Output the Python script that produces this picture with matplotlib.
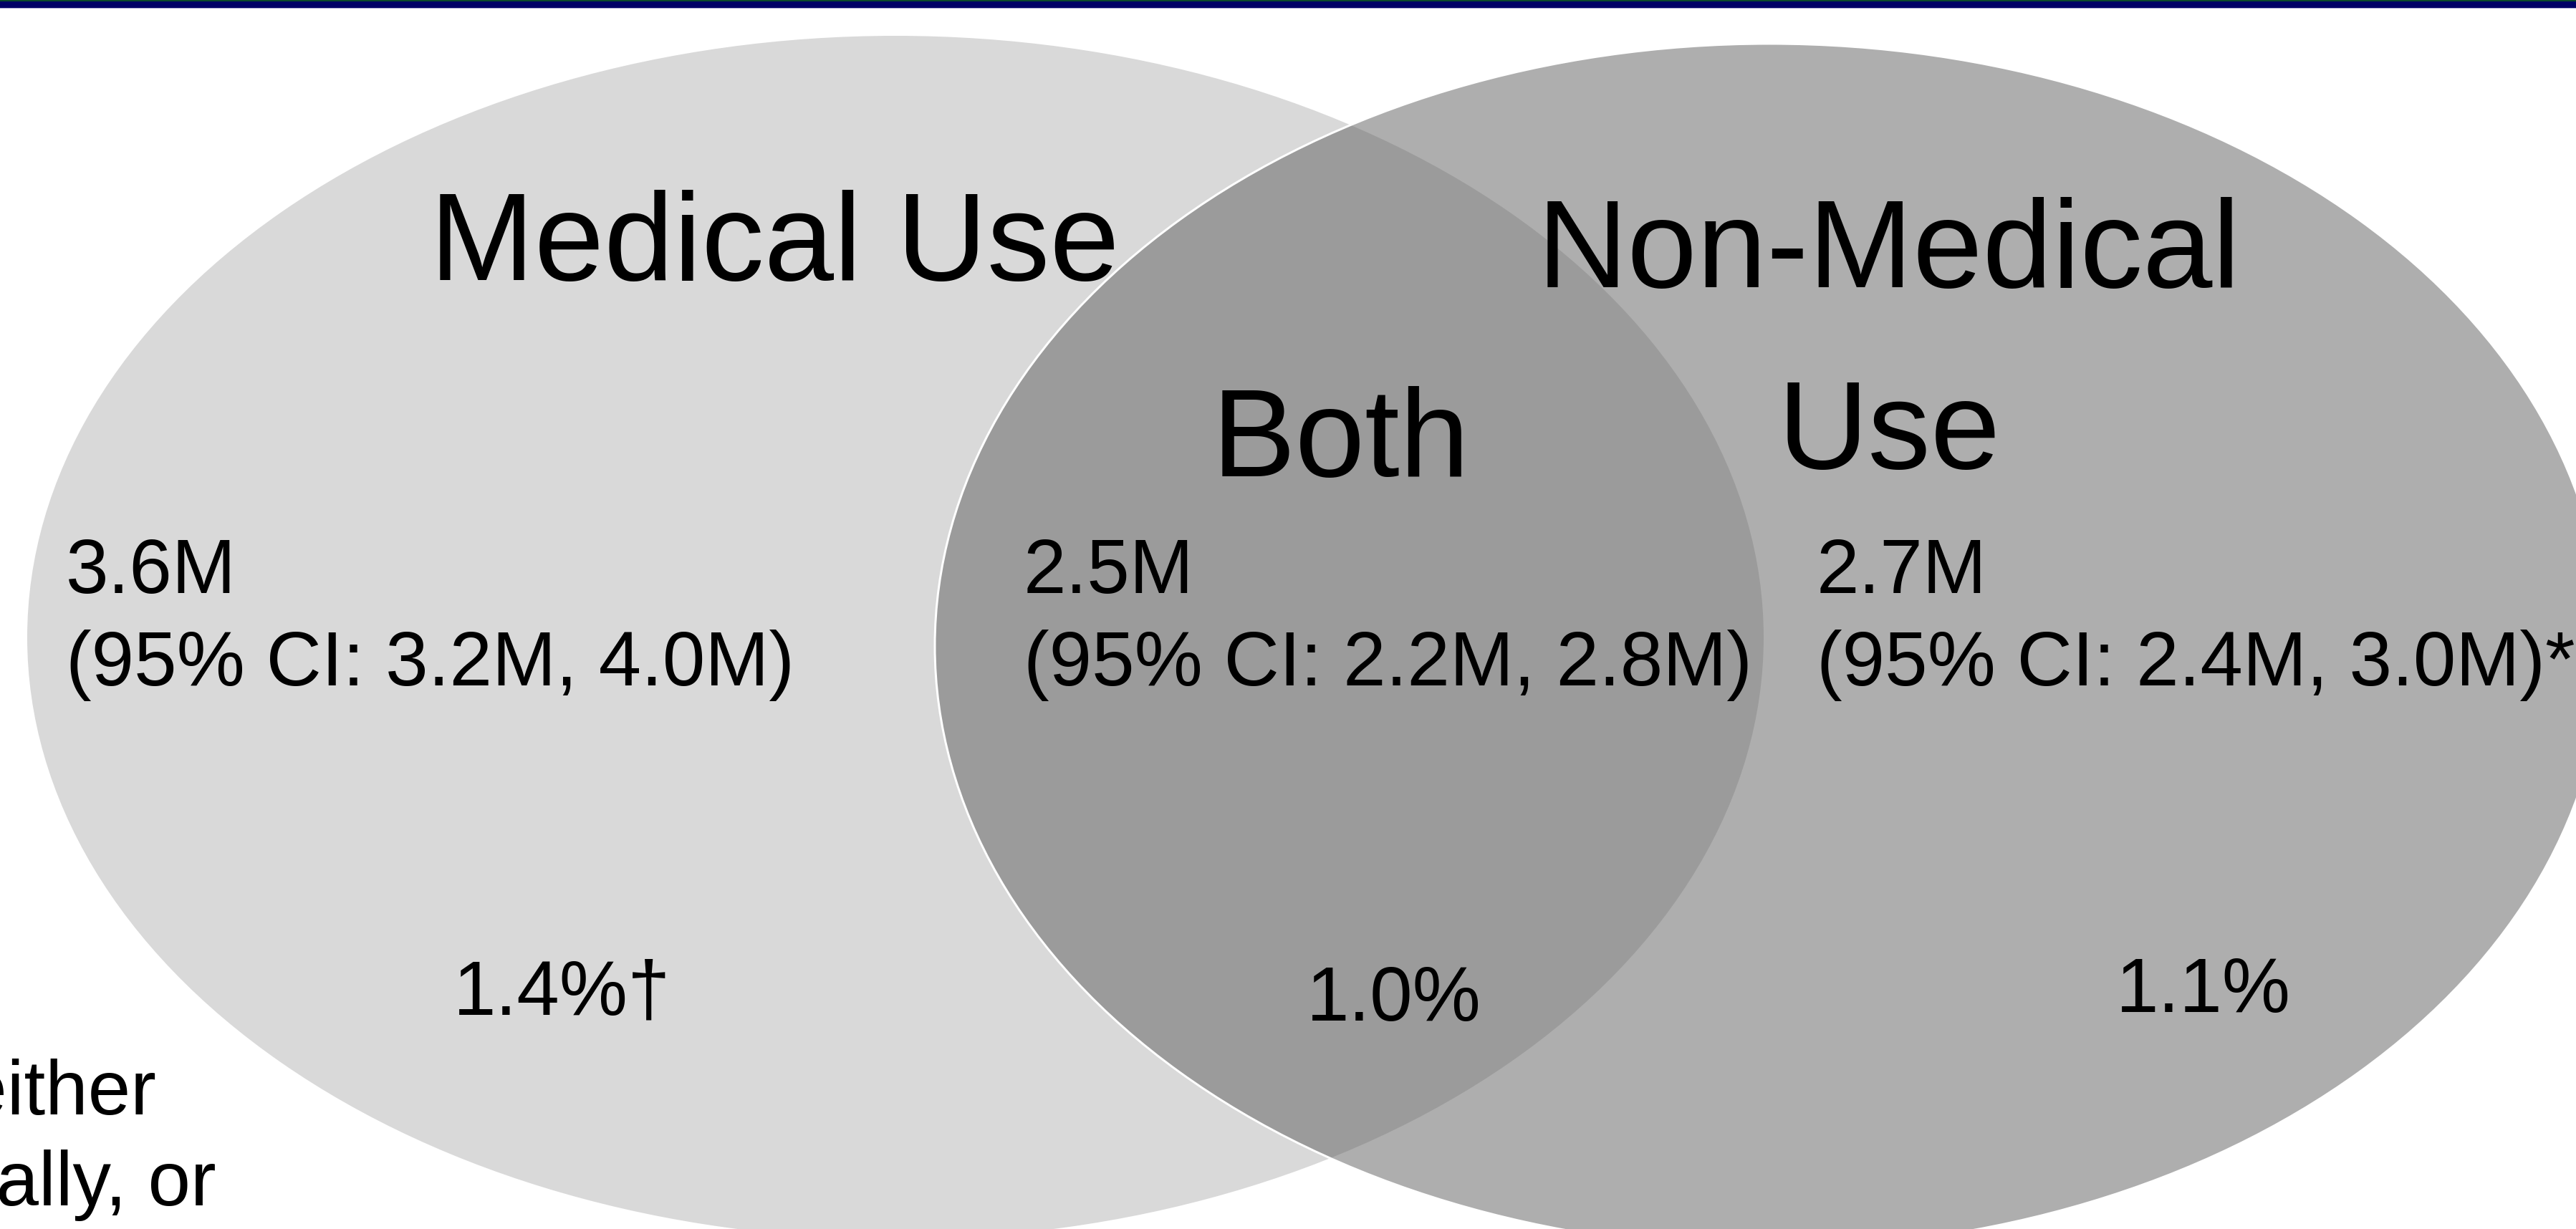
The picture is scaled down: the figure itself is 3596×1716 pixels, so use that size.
import matplotlib
matplotlib.use("Agg")
import matplotlib.pyplot as plt
from matplotlib.patches import Ellipse, Rectangle

# ---- data ----
set_titles = ["Medical Use", "Non-Medical", "Use"]
overlap_title = "Both"
counts = ["3.6M", "2.5M", "2.7M"]
ci_low = ["3.2M", "2.2M", "2.4M"]
ci_high = ["4.0M", "2.8M", "3.0M"]
ci_marks = ["", "", "*"]
percents = ["1.4%", "1.0%", "1.1%"]
pct_marks = ["\u2020", "", ""]
side_lines = ["Neither", "Medically, or"]

# ---- layout (pixel coordinates) ----
W, H = 3596, 1716
DPI = 100
FONT = ["Liberation Sans", "DejaVu Sans"]

def pt(px):
    return px * 72.0 / DPI

fig = plt.figure(figsize=(W / DPI, H / DPI), dpi=DPI)
ax = fig.add_axes([0, 0, 1, 1])
ax.set_xlim(0, W)
ax.set_ylim(H, 0)
ax.axis("off")

# top band
ax.add_patch(Rectangle((0, 0), W, 1.5, facecolor="#0b4a2a", edgecolor="none", zorder=5))
ax.add_patch(Rectangle((0, 1.5), W, 9.5, facecolor="#000066", edgecolor="none", zorder=5))
ax.add_patch(Rectangle((0, 11), W, 1.2, facecolor="#a8a8d0", edgecolor="none", zorder=5))

# ellipses
left = dict(cx=1250, cy=890, rx=1212, ry=840)
right = dict(cx=2470, cy=902, rx=1165, ry=841)
ax.add_patch(Ellipse((left["cx"], left["cy"]), 2 * left["rx"], 2 * left["ry"],
                     facecolor="#d9d9d9", edgecolor="none", zorder=1))
ax.add_patch(Ellipse((right["cx"], right["cy"]), 2 * right["rx"], 2 * right["ry"],
                     facecolor=(95 / 255, 95 / 255, 95 / 255, 0.5), edgecolor="none", zorder=2))
ax.add_patch(Ellipse((right["cx"], right["cy"]), 2 * right["rx"], 2 * right["ry"],
                     facecolor="none", edgecolor="white", linewidth=pt(3), zorder=3))

big = pt(175)
small = pt(107)

# set titles
title_pos = [(1081, 391), (2637, 401), (2637, 654)]
for t, (x, y) in zip(set_titles, title_pos):
    ax.text(x, y, t, ha="center", va="baseline", fontsize=big, family=FONT, color="black", zorder=6)
ax.text(1872, 665, overlap_title, ha="center", va="baseline", fontsize=big, family=FONT, color="black", zorder=6)

# counts with CI
count_x = [92, 1429, 2536]
for x, c, lo, hi, m in zip(count_x, counts, ci_low, ci_high, ci_marks):
    ax.text(x, 828, c, ha="left", va="baseline", fontsize=small, family=FONT, zorder=6)
    ax.text(x, 957, f"(95% CI: {lo}, {hi}){m}", ha="left", va="baseline",
            fontsize=small, family=FONT, zorder=6)

# percentages
pct_pos = [(785, 1416), (1946, 1425), (3076, 1413)]
for (x, y), p, m in zip(pct_pos, percents, pct_marks):
    ax.text(x, y, p + m, ha="center", va="baseline", fontsize=small, family=FONT, zorder=6)

# partially visible side text
side_pos = [(218, 1556), (302, 1683)]
for (x, y), s in zip(side_pos, side_lines):
    ax.text(x, y, s, ha="right", va="baseline", fontsize=small, family=FONT, zorder=6)

fig.savefig("out.png", dpi=DPI, facecolor="white")
